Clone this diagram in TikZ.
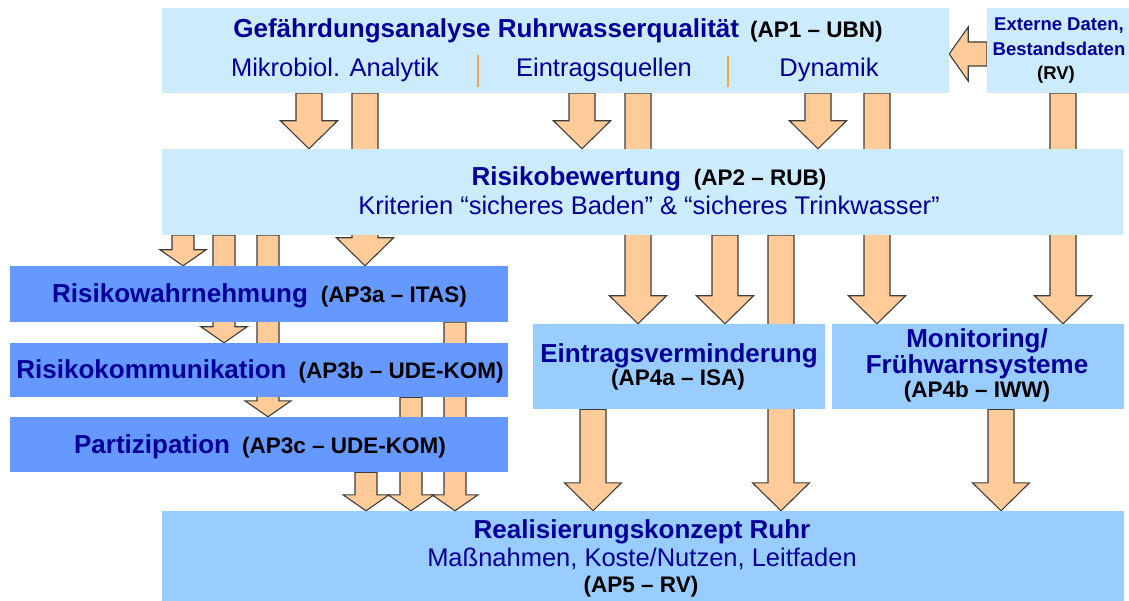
\documentclass[tikz,border=0pt]{standalone}
\usepackage{fontspec}
\setmainfont{Liberation Sans}
\usetikzlibrary{calc}
\pgfdeclarelayer{bg}
\pgfsetlayers{bg,main}
\definecolor{lightbox}{HTML}{CCEBFC}
\definecolor{midbox}{HTML}{99CCFF}
\definecolor{darkbox}{HTML}{6699FF}
\definecolor{navy}{HTML}{000099}
\definecolor{peach}{HTML}{FFCC99}
\definecolor{arrowline}{HTML}{3C3C3C}
\definecolor{sepcol}{HTML}{F2A640}
\newcommand\ttlf{\fontsize{26}{28}\selectfont\bfseries\color{navy}}
\newcommand\lblf{\fontsize{22.5}{25}\selectfont\bfseries\color{black}}
\newcommand\regf{\fontsize{25.5}{28}\selectfont\color{navy}}
\newcommand\extf{\fontsize{18.5}{21}\selectfont\bfseries\color{navy}}
\tikzset{
  ashaft/.initial=13pt, ahead/.initial=28.5pt, alen/.initial=28pt,
  blockbase/.style={fill=peach, draw=arrowline, line width=1.1pt, line join=miter},
  downarrow/.style={blockbase, to path={
    let \p1=(\tikztostart), \p2=(\tikztotarget) in
    (\x1-\pgfkeysvalueof{/tikz/ashaft},\y1)
    -- (\x1-\pgfkeysvalueof{/tikz/ashaft},\y2+\pgfkeysvalueof{/tikz/alen})
    -- (\x1-\pgfkeysvalueof{/tikz/ahead},\y2+\pgfkeysvalueof{/tikz/alen})
    -- (\x1,\y2)
    -- (\x1+\pgfkeysvalueof{/tikz/ahead},\y2+\pgfkeysvalueof{/tikz/alen})
    -- (\x1+\pgfkeysvalueof{/tikz/ashaft},\y2+\pgfkeysvalueof{/tikz/alen})
    -- (\x1+\pgfkeysvalueof{/tikz/ashaft},\y1) -- cycle}},
  smallarrow/.style={downarrow, ashaft=11pt, ahead=23pt, alen=16pt},
  leftarrow/.style={blockbase, to path={
    let \p1=(\tikztostart), \p2=(\tikztotarget) in
    (\x1,\y1+12pt) -- (\x2+19pt,\y1+12pt) -- (\x2+19pt,\y1+27pt) -- (\x2,\y1)
    -- (\x2+19pt,\y1-27pt) -- (\x2+19pt,\y1-12pt) -- (\x1,\y1-12pt) -- cycle}},
  box/.style={rectangle, inner sep=0pt, draw=none},
  txt/.style={anchor=base, inner sep=0pt},
  sepline/.style={sepcol, line width=2.7pt}
}
\begin{document}
\begin{tikzpicture}[x=1pt,y=-1pt]
\useasboundingbox (0,0) rectangle (1129,601);
\begin{scope}
\clip (0,0) rectangle (1129,601);
% boxes
\node[box, fill=lightbox, minimum width=787pt, minimum height=85pt] (ap1) at (555.5,50.5) {};
\node[box, fill=lightbox, minimum width=160pt, minimum height=85pt] (ext) at (1067,50.5) {};
\node[box, fill=lightbox, minimum width=961pt, minimum height=86pt] (ap2) at (642.5,192) {};
\node[box, fill=darkbox, minimum width=498pt, minimum height=56pt] (ap3a) at (259,294) {};
\node[box, fill=darkbox, minimum width=498pt, minimum height=54pt] (ap3b) at (259,370) {};
\node[box, fill=darkbox, minimum width=498pt, minimum height=55pt] (ap3c) at (259,444.5) {};
\node[box, fill=midbox, minimum width=292pt, minimum height=85pt] (ap4a) at (679,366.5) {};
\node[box, fill=midbox, minimum width=292pt, minimum height=85pt] (ap4b) at (978,366.5) {};
\node[box, fill=midbox, minimum width=962pt, minimum height=90pt] (ap5) at (643,556) {};
% texts
\node[txt] (t1) at (558,38) {\ttlf Gefährdungsanalyse Ruhrwasserqualität\hskip 11pt\lblf (AP1 – UBN)};
\node[txt] (t1a) at (335,77) {\regf Mikrobiol. Analytik};
\node[txt] (t1b) at (604,77) {\regf Eintragsquellen};
\node[txt] (t1c) at (829,77) {\regf Dynamik};
\draw[sepline] (478,55) -- (478,87);
\draw[sepline] (728,56) -- (728,87);
\node[txt] (te1) at (1059,31) {\extf Externe Daten,};
\node[txt] (te2) at (1059,56) {\extf Bestandsdaten};
\node[txt] (te3) at (1056,80) {\extf\color{black}(RV)};
\node[txt] (t2) at (649,186) {\ttlf Risikobewertung\hskip 13pt\lblf (AP2 – RUB)};
\node[txt] (t2a) at (649,215) {\regf Kriterien “sicheres Baden” \& “sicheres Trinkwasser”};
\node[txt] (t3a) at (259.5,303) {\ttlf Risikowahrnehmung\hskip 13pt\lblf (AP3a – ITAS)};
\node[txt] (t3b) at (260,378) {\ttlf Risikokommunikation\hskip 12pt\lblf (AP3b – UDE-KOM)};
\node[txt] (t3c) at (260,453) {\ttlf Partizipation\hskip 12pt\lblf (AP3c – UDE-KOM)};
\node[txt] (t4a) at (679,362) {\ttlf Eintragsverminderung};
\node[txt] (t4a2) at (678,385) {\lblf (AP4a – ISA)};
\node[txt] (t4b) at (977,348) {\ttlf Monitoring/};
\node[txt] (t4b2) at (977,373) {\ttlf Frühwarnsysteme};
\node[txt] (t4b3) at (977,397) {\lblf (AP4b – IWW)};
\node[txt] (t5) at (642,538) {\ttlf Realisierungskonzept Ruhr};
\node[txt] (t5a) at (642,566) {\regf Maßnahmen, Koste/Nutzen, Leitfaden};
\node[txt] (t5b) at (641,592) {\lblf (AP5 – RV)};
\end{scope}
% columns
\coordinate (k183) at (183,0);
\coordinate (k224) at (224,0);
\coordinate (k268) at (268,0);
\coordinate (k309) at (309,0);
\coordinate (k365) at (365,0);
\coordinate (k366) at (366,0);
\coordinate (k411) at (411,0);
\coordinate (k455) at (455,0);
\coordinate (k582) at (582,0);
\coordinate (k593) at (593,0);
\coordinate (k638) at (638,0);
\coordinate (k725) at (725,0);
\coordinate (k781) at (781,0);
\coordinate (k818) at (818,0);
\coordinate (k877) at (877,0);
\coordinate (k1001) at (1001,0);
\coordinate (k1063) at (1063,0);
\coordinate (r54) at (0,54);
\begin{pgfonlayer}{bg}
\draw[downarrow] (ap1.south -| k309) to (ap2.north -| k309);
\draw[downarrow] (ap1.south -| k582) to (ap2.north -| k582);
\draw[downarrow] (ap1.south -| k818) to (ap2.north -| k818);
\draw[downarrow] (ap1.south -| k365) to (ap3a.north -| k365);
\draw[downarrow] (ap1.south -| k638) to (ap4a.north -| k638);
\draw[downarrow] (ap1.south -| k877) to (ap4b.north -| k877);
\draw[downarrow] (ext.south -| k1063) to (ap4b.north -| k1063);
\draw[downarrow] (ap2.south -| k725) to (ap4a.north -| k725);
\draw[downarrow] (ap2.south -| k781) to (ap5.north -| k781);
\draw[downarrow] (ap4a.south -| k593) to (ap5.north -| k593);
\draw[downarrow] (ap4b.south -| k1001) to (ap5.north -| k1001);
\draw[smallarrow] (ap2.south -| k183) to (ap3a.north -| k183);
\draw[smallarrow] (ap2.south -| k224) to (ap3b.north -| k224);
\draw[smallarrow] (ap2.south -| k268) to (ap3c.north -| k268);
\draw[smallarrow] (ap3a.south -| k455) to (ap5.north -| k455);
\draw[smallarrow] (ap3b.south -| k411) to (ap5.north -| k411);
\draw[smallarrow] (ap3c.south -| k366) to (ap5.north -| k366);
\draw[leftarrow] (ext.west |- r54) to (ap1.east |- r54);
\end{pgfonlayer}
\end{tikzpicture}
\end{document}
